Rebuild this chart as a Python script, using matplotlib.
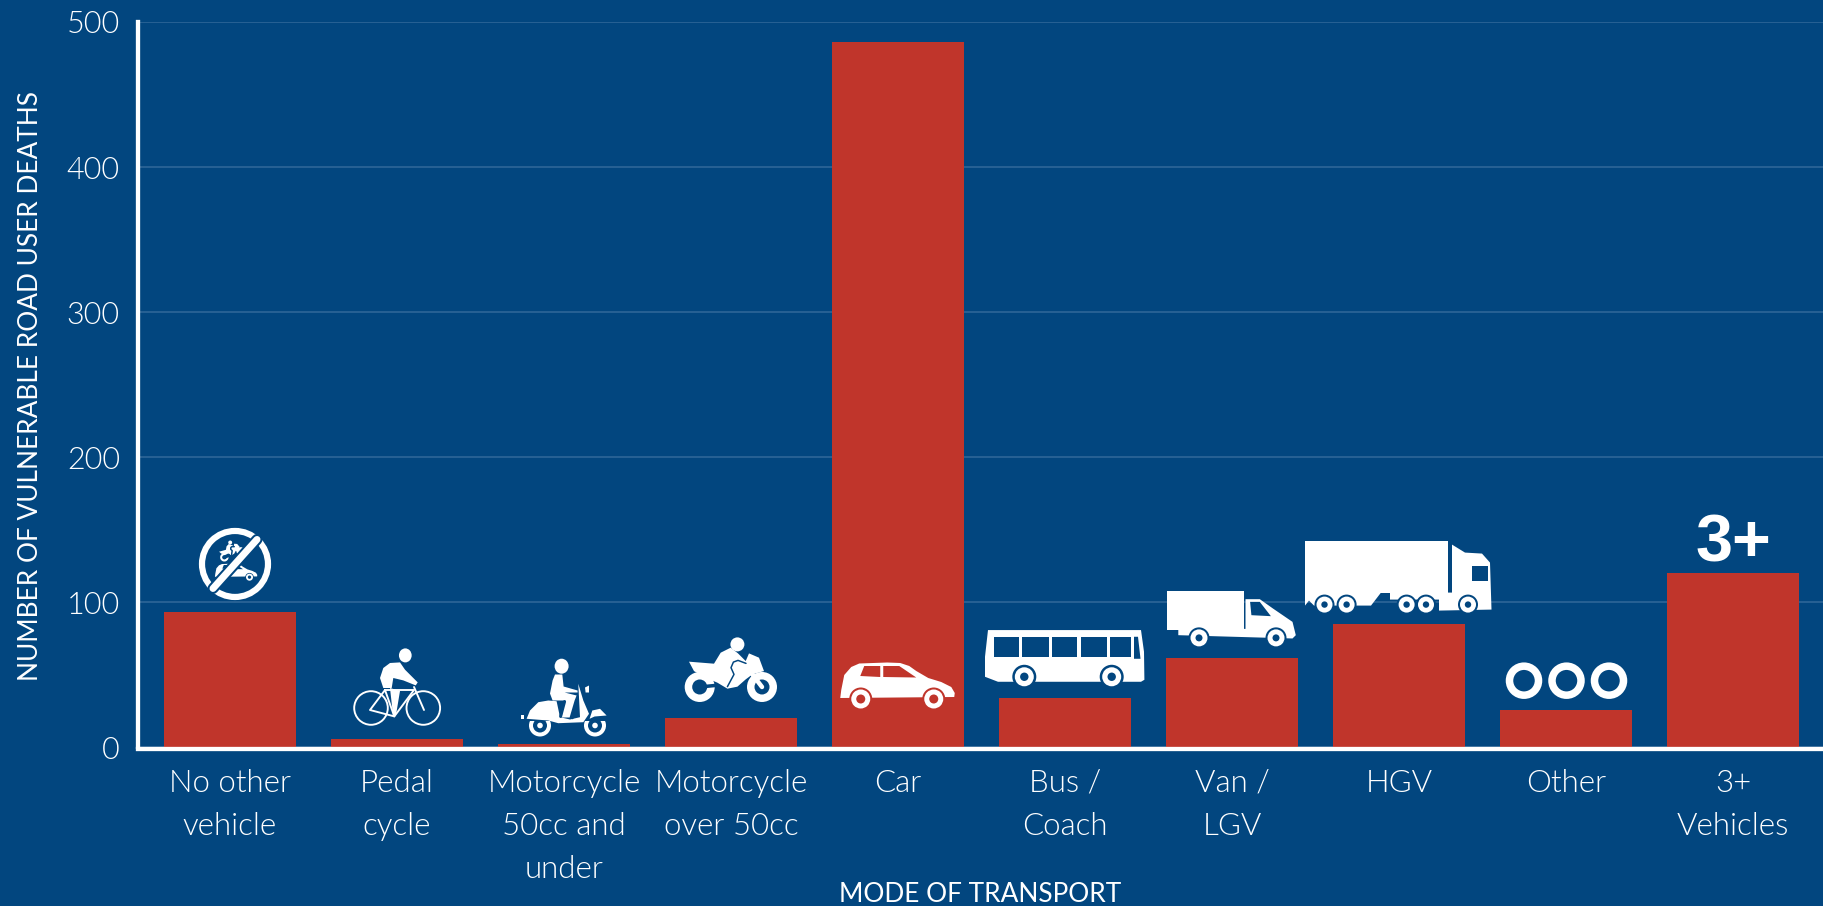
#!/usr/bin/env python3
import matplotlib
matplotlib.use('Agg')
from matplotlib import pyplot as plt
from matplotlib.patches import Circle, Ellipse, Polygon
from matplotlib.transforms import Affine2D

categories = ['No other\nvehicle', 'Pedal\ncycle', 'Motorcycle\n50cc and\nunder', 'Motorcycle\nover 50cc',
              'Car', 'Bus /\nCoach', 'Van /\nLGV', 'HGV', 'Other', '3+\nVehicles']
deaths = [93, 6, 2, 20, 486, 34, 61.5, 85, 26, 120]
yticks = [0, 100, 200, 300, 400, 500]

BG = '#02467f'
RED = '#c0352b'
GRID = '#32689a'
WHITE = '#ffffff'
W, H = 1823, 906
PT = 0.72  # px to points at dpi 100

plt.rcParams['font.family'] = ['Lato', 'DejaVu Sans']

fig = plt.figure(figsize=(W/100, H/100), dpi=100, facecolor=BG)
ax = fig.add_axes([138/W, (H-747.4)/H, (W-138)/W, (747.4-22)/H], facecolor=BG)

x = list(range(len(categories)))
ax.bar(x, deaths, width=132/167, color=RED, zorder=3)
ax.set_xlim(-92/167, 1593/167)
ax.set_ylim(0, 500)
ax.set_yticks(yticks)
ax.set_xticks(x)
ax.set_xticklabels([])
ax.tick_params(axis='x', length=0)
ax.tick_params(axis='y', length=0, pad=13, labelsize=22, labelcolor=WHITE)
for lab in ax.get_yticklabels():
    lab.set_fontweight(300)
# category names as plain text, the tick labels drop the line spacing here
for i, name in zip(x, categories):
    ax.annotate(name, (i, 0), xytext=(0, -15.5), textcoords='offset points', ha='center', va='top',
                color=WHITE, fontsize=22.5, fontweight=300, linespacing=1.62, annotation_clip=False)
ax.grid(axis='y', color=GRID, lw=1.1, zorder=1)
ax.set_axisbelow(True)
for s in ['top', 'right']:
    ax.spines[s].set_visible(False)
for s in ['left', 'bottom']:
    ax.spines[s].set_color(WHITE)
    ax.spines[s].set_linewidth(3.1)
    ax.spines[s].set_zorder(4)
ax.spines['bottom'].set_position(('outward', 1.5))
fig.text(31/W, 1-386/H, 'NUMBER OF VULNERABLE ROAD USER DEATHS', color=WHITE, fontsize=18.9,
         rotation=90, ha='center', va='center')
fig.text(980/W, 1-895/H, 'MODE OF TRANSPORT', color=WHITE, fontsize=18.9, ha='center', va='center')

# overlay in pixels for the pictograms, y pointing down
ov = fig.add_axes([0, 0, 1, 1], facecolor='none')
ov.set_xlim(0, W)
ov.set_ylim(H, 0)
ov.axis('off')


def place(i, dx, dy, s=1.0, value=None, rot=0):
    v = deaths[i] if value is None else value
    px, py = ax.transData.transform((i, v))
    return Affine2D().scale(s).rotate_deg(rot).translate(px + dx, H - py + dy) + ov.transData


def poly(tf, pts, c=WHITE):
    ov.add_patch(Polygon(pts, closed=True, fc=c, ec='none', transform=tf))


def disc(tf, xy, r, c=WHITE):
    ov.add_patch(Circle(xy, r, fc=c, ec='none', transform=tf))


def ring(tf, xy, r, lw, c=WHITE):
    ov.add_patch(Circle(xy, r, fc='none', ec=c, lw=lw*PT, transform=tf))


def line(tf, pts, lw, c=WHITE):
    ov.plot([p[0] for p in pts], [p[1] for p in pts], color=c, lw=lw*PT, transform=tf,
            solid_capstyle='round', solid_joinstyle='round')


def wheel(tf, xy, r, hole, c=BG, arch=None):
    if arch:
        disc(tf, xy, arch, c)
    disc(tf, xy, r)
    disc(tf, xy, hole, c)


def bike(tf):
    for cx in (-26, 26.3):
        ring(tf, (cx, 0), 16.8, 1.9)
    ov.add_patch(Ellipse((8.3, -52.6), 12.7, 14, fc=WHITE, ec='none', transform=tf))
    poly(tf, [(-7, -45), (3, -45.6), (8, -38.3), (20.7, -25.6), (18.7, -22.6), (6.3, -27.6), (-3.7, -30), (-5.3, -20),
              (-13.7, -20), (-17, -30), (-13.7, -40)])
    poly(tf, [(-7, -20), (3, -17), (-1, 7), (-4, 7)])
    line(tf, [(-12, -18), (-27, 2), (-2.7, 8.4), (-12, -18)], 1.9)
    line(tf, [(-12, -18), (17, -18), (-2.7, 8.4)], 1.9)
    line(tf, [(17, -21), (27, 2)], 1.9)


def scooter(tf):
    for cx in (-27.6, 27.4):
        wheel(tf, (cx, 0), 11, 7)
        disc(tf, (cx, 0), 2.8)
        poly(tf, [(cx-12, -12), (cx+12, -12), (cx+12, -4.6), (cx-12, -4.6)], BG)
    poly(tf, [(-41, -6.7), (-37.6, -15), (-29.3, -23.3), (-19.3, -25), (-11, -24.3), (-7.6, -8.3), (2.4, -6), (12.4, -8.3),
              (10.7, -41.7), (15.7, -25), (21.4, -11.7), (15.7, -3.3), (-9.3, -2.3), (-19.3, -5)])
    poly(tf, [(22, -6.7), (24.7, -15), (32.4, -16.7), (39, -10), (27, -9)])
    poly(tf, [(17.4, -38), (21.4, -40), (21.4, -33), (18, -33)])
    poly(tf, [(-46.6, -10), (-43.5, -10), (-43.5, -6.5), (-46.6, -6.5)])
    line(tf, [(-3, -24), (-7, -9)], 3, BG)
    line(tf, [(10, -29), (5, -7)], 1.6, BG)
    ov.add_patch(Ellipse((-6, -59.3), 14, 15, fc=WHITE, ec='none', transform=tf))
    poly(tf, [(-12.6, -51), (-5.3, -51), (-4, -39), (10, -35), (10, -33), (-3, -33), (9, -30), (7, -25), (2, -8), (-6, -8),
              (-3, -25), (-15, -25), (-17.6, -32), (-15, -45)])


def moto(tf, c=BG):
    wheel(tf, (-31.3, -4.4), 15, 7.5, c)
    wheel(tf, (31, -4.4), 15, 7.5, c)
    line(tf, [(-31.3, -4.4), (-15, -6)], 3.5, c)
    poly(tf, [(-42, -29.7), (-17, -27.7), (-10.3, -38.7), (-0.3, -43.7), (7, -38), (14.7, -30.3), (18, -38), (28, -33.7),
              (33, -20.3), (21.4, -17), (14.7, -12), (6.4, -4.7), (-3.6, -2.7), (-13.6, -8.7), (-25.3, -13.7), (-37, -20.3)])
    ov.add_patch(Ellipse((6.4, -47), 14, 14, fc=WHITE, ec='none', transform=tf))
    line(tf, [(21.4, -17), (31, -4.4)], 4.5)
    line(tf, [(15, -28), (7, -31), (2.4, -29.3), (0, -23.7), (3, -17), (-3.6, -4.7)], 1.5, c)


def car(tf, c=RED):
    poly(tf, [(-56, -9), (-53, -24), (-46, -32), (-38, -35.5), (-10, -36.5), (3, -36), (12, -33), (19, -28), (31, -21), (44, -17), (54, -12),
              (57.5, -6), (57, -2), (-57, -1)])
    poly(tf, [(-33, -33), (-17, -33), (-17, -22), (-37, -23)], c)
    poly(tf, [(-14, -33), (2, -33), (19, -21.5), (-14, -22)], c)
    wheel(tf, (-36.5, 0), 9.5, 4.5, c, arch=11.5)
    wheel(tf, (36.5, 0), 9.5, 4.5, c, arch=11.5)


def bus(tf):
    poly(tf, [(-80, -46.7), (73, -46.7), (76, -25), (76.4, 3), (73, 5), (-70, 5), (-83, 0), (-83, -20)])
    for a, b in [(-74.3, -49.5), (-45.6, -19.5), (-16.2, 9.2), (13.1, 38.6), (41.8, 62.7)]:
        poly(tf, [(a, -40), (b, -40), (b, -20), (a, -20)], BG)
    poly(tf, [(66, -40), (70, -40), (72.5, -18), (66, -18)], BG)
    for cx in (-43.7, 43.7):
        wheel(tf, (cx, 0), 9.5, 4.2, arch=12)


def van(tf):
    poly(tf, [(-70.2, -46.7), (6.7, -46.7), (6.7, -7.7), (-70.2, -7.7)])
    poly(tf, [(-59.2, -9), (8, -9), (8, -38.7), (22.3, -38.7), (35.4, -29.4), (55, -16), (58.3, -2.7), (55, 0.6), (-59.2, -2.7)])
    poly(tf, [(12.6, -36), (22.3, -36), (33.4, -21.7), (13.9, -22.7)], BG)
    for cx in (-38.5, 38.5):
        wheel(tf, (cx, 0), 8.5, 3.5, arch=10.5)


def hgv(tf):
    poly(tf, [(-94, -63.3), (49, -63.3), (49, -12), (-94, -12)])
    poly(tf, [(-94, -12), (-18, -12), (-28, 1), (-85, 1), (-90, -4), (-94, 1)])
    poly(tf, [(53, -60), (66, -52), (83, -51), (91, -42), (92.5, 5), (40, 6), (40, -5), (-9, -5), (-9, -12), (53, -12)])
    poly(tf, [(73.2, -38.3), (88.9, -38.3), (88.9, -23.3), (73.2, -23.3)], BG)
    for cx in (-74.5, -52.4, 7.6, 27, 69):
        wheel(tf, (cx, 0), 8, 3.2, arch=10)


def no_entry(tf, tf_moto, tf_car):
    moto(tf_moto)
    car(tf_car, BG)
    line(tf, [(-22, 24.5), (22, -24.5)], 11, BG)
    line(tf, [(-22, 24.5), (22, -24.5)], 7)
    ring(tf, (0, 0), 33, 6.2)


no_entry(place(0, 5, -48.5), place(0, 3, -57, 0.28, rot=-20), place(0, 6, -35.3, 0.37))
bike(place(1, 0, -30.7))
scooter(place(2, 3.6, -19))
moto(place(3, 0, -27))
car(place(4, -0.75, -48.4, value=0))
bus(place(5, 3, -21.3))
van(place(6, 5.5, -20.3))
hgv(place(7, 0, -19.5))
for dx in (-42, 0.5, 43):
    ring(place(8, dx, -29), (0, 0), 14.5, 7.5)

px, py = ax.transData.transform((9, deaths[9]))
ov.text(px, H - py - 12, '3+', color=WHITE, fontsize=48, fontweight='bold', family='Liberation Sans',
        ha='center', va='baseline')

fig.savefig('out.png', dpi=100, facecolor=BG)
